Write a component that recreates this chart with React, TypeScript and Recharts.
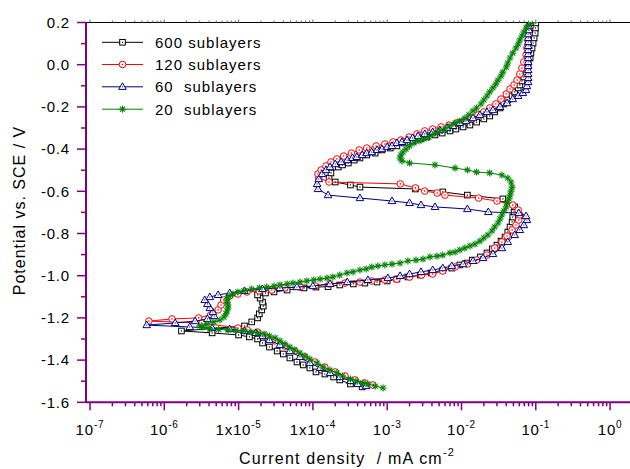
import React from 'react';
import { ScatterChart, Scatter, XAxis, YAxis } from 'recharts';

const FONT = '"Liberation Sans", Arial, Helvetica, sans-serif';
const PURPLE = '#800080';

// [current density (mA cm^-2), potential (V vs SCE)]
const s600: [number, number][] = [
  [4.6e-4, -1.527], [3.2e-4, -1.513], [2.3e-4, -1.494], [1.9e-4, -1.48], [1.45e-4, -1.466],
  [1.1e-4, -1.456], [9.1e-5, -1.437], [7.4e-5, -1.423], [6.1e-5, -1.409], [4.9e-5, -1.39],
  [4.0e-5, -1.371], [3.3e-5, -1.357], [2.6e-5, -1.338], [2.1e-5, -1.319], [1.8e-5, -1.3],
  [1.4e-5, -1.29], [1.0e-5, -1.281], [4.4e-6, -1.271], [1.7e-6, -1.262], [1.2e-5, -1.238],
  [1.5e-5, -1.219], [1.8e-5, -1.2], [1.9e-5, -1.181], [2.05e-5, -1.162], [2.15e-5, -1.144],
  [2.1e-5, -1.125], [1.95e-5, -1.106], [1.8e-5, -1.091], [2.3e-5, -1.082], [3.0e-5, -1.077],
  [4.5e-5, -1.068], [7.6e-5, -1.058], [1.1e-4, -1.054], [1.6e-4, -1.052], [2.3e-4, -1.044],
  [3.5e-4, -1.039], [5.0e-4, -1.035], [7.3e-4, -1.03], [1.0e-3, -1.025], [1.35e-3, -1.016],
  [1.9e-3, -1.006], [2.8e-3, -0.997], [3.9e-3, -0.987], [5.6e-3, -0.973], [7.4e-3, -0.964],
  [9.5e-3, -0.949], [1.2e-2, -0.94], [1.4e-2, -0.926], [1.8e-2, -0.911], [2.2e-2, -0.892],
  [2.6e-2, -0.873], [3.0e-2, -0.855], [3.4e-2, -0.836], [3.85e-2, -0.817], [4.2e-2, -0.793],
  [4.5e-2, -0.769], [4.8e-2, -0.745], [4.9e-2, -0.722], [5.1e-2, -0.698], [5.2e-2, -0.674],
  [3.6e-2, -0.636], [1.2e-2, -0.618], [5.6e-3, -0.603], [2.4e-3, -0.589], [4.3e-4, -0.58],
  [3.2e-4, -0.57], [2.0e-4, -0.556], [1.65e-4, -0.537], [1.75e-4, -0.513], [2.2e-4, -0.485],
  [2.5e-4, -0.475], [3.0e-4, -0.466], [3.6e-4, -0.452], [4.3e-4, -0.442], [5.3e-4, -0.428],
  [6.9e-4, -0.419], [8.5e-4, -0.404], [1.1e-3, -0.395], [1.35e-3, -0.385], [1.7e-3, -0.371],
  [2.2e-3, -0.362], [2.8e-3, -0.352], [3.4e-3, -0.343], [4.4e-3, -0.333], [5.5e-3, -0.324],
  [7.0e-3, -0.314], [8.4e-3, -0.305], [1.05e-2, -0.295], [1.3e-2, -0.286], [1.6e-2, -0.272],
  [2.0e-2, -0.257], [2.4e-2, -0.243], [2.8e-2, -0.224], [3.3e-2, -0.205], [3.7e-2, -0.186],
  [4.2e-2, -0.167], [4.8e-2, -0.148], [5.2e-2, -0.129], [5.8e-2, -0.11], [6.1e-2, -0.096],
  [6.5e-2, -0.077], [6.9e-2, -0.058], [7.4e-2, -0.035], [7.6e-2, -0.016], [7.9e-2, 0.008],
  [8.4e-2, 0.032], [8.6e-2, 0.055], [8.9e-2, 0.079], [9.2e-2, 0.103], [9.5e-2, 0.127],
  [9.8e-2, 0.15], [9.9e-2, 0.174], [1.0e-1, 0.198],
];

const s120: [number, number][] = [
  [6.4e-4, -1.518], [5.0e-4, -1.508], [3.7e-4, -1.494], [2.7e-4, -1.475], [2.0e-4, -1.456],
  [1.45e-4, -1.433], [1.07e-4, -1.409], [7.8e-5, -1.385], [5.7e-5, -1.357], [4.2e-5, -1.333],
  [3.1e-5, -1.309], [2.3e-5, -1.286], [1.8e-5, -1.267], [1.3e-5, -1.257], [9.8e-6, -1.248],
  [3.2e-6, -1.224], [6.2e-7, -1.215], [1.27e-6, -1.205], [2.9e-6, -1.2], [4.2e-6, -1.186],
  [5.3e-6, -1.162], [5.8e-6, -1.139], [6.3e-6, -1.115], [7.6e-6, -1.096], [9.8e-6, -1.087],
  [1.3e-5, -1.077], [1.9e-5, -1.072], [2.8e-5, -1.068], [4.2e-5, -1.058], [6.7e-5, -1.054],
  [1.07e-4, -1.049], [1.7e-4, -1.039], [2.7e-4, -1.035], [4.3e-4, -1.03], [6.2e-4, -1.025],
  [9.3e-4, -1.02], [1.35e-3, -1.016], [2.0e-3, -1.006], [2.9e-3, -0.997], [4.1e-3, -0.992],
  [5.6e-3, -0.978], [8.2e-3, -0.959], [1.2e-2, -0.945], [1.6e-2, -0.926], [2.2e-2, -0.902],
  [2.8e-2, -0.869], [3.5e-2, -0.84], [4.1e-2, -0.812], [4.8e-2, -0.783], [5.4e-2, -0.76],
  [5.9e-2, -0.736], [6.1e-2, -0.712], [5.8e-2, -0.689], [4.9e-2, -0.665], [3.0e-2, -0.646],
  [1.7e-2, -0.632], [6.0e-3, -0.618], [4.7e-3, -0.608], [3.2e-3, -0.599], [2.4e-3, -0.584],
  [1.5e-3, -0.565], [1.65e-4, -0.556], [1.2e-4, -0.537], [1.17e-4, -0.518], [1.29e-4, -0.499],
  [1.5e-4, -0.48], [1.75e-4, -0.461], [2.1e-4, -0.447], [2.6e-4, -0.433], [3.3e-4, -0.419],
  [4.2e-4, -0.404], [5.3e-4, -0.395], [7.1e-4, -0.385], [9.3e-4, -0.376], [1.2e-3, -0.366],
  [1.53e-3, -0.357], [1.97e-3, -0.343], [2.52e-3, -0.328], [3.2e-3, -0.314], [4.1e-3, -0.305],
  [5.3e-3, -0.295], [6.8e-3, -0.286], [8.7e-3, -0.276], [1.08e-2, -0.267], [1.34e-2, -0.253],
  [1.67e-2, -0.238], [2.0e-2, -0.224], [2.4e-2, -0.205], [2.9e-2, -0.186], [3.4e-2, -0.163],
  [4.0e-2, -0.139], [4.5e-2, -0.115], [5.1e-2, -0.096], [5.6e-2, -0.073], [6.1e-2, -0.044],
  [6.5e-2, -0.016], [6.9e-2, 0.013], [7.4e-2, 0.046], [7.6e-2, 0.079], [7.9e-2, 0.112],
  [8.1e-2, 0.145], [8.4e-2, 0.179],
];

const s60: [number, number][] = [
  [5.2e-4, -1.523], [4.0e-4, -1.513], [3.2e-4, -1.499], [2.3e-4, -1.48], [1.7e-4, -1.461],
  [1.25e-4, -1.437], [9.1e-5, -1.414], [6.7e-5, -1.385], [4.9e-5, -1.357], [3.6e-5, -1.328],
  [2.6e-5, -1.305], [2.1e-5, -1.286], [1.7e-5, -1.271], [1.2e-5, -1.262], [7.6e-6, -1.253],
  [4.4e-6, -1.248], [2.2e-6, -1.243], [5.8e-7, -1.234], [1.4e-6, -1.224], [2.6e-6, -1.215],
  [3.8e-6, -1.205], [4.7e-6, -1.191], [4.5e-6, -1.172], [4.1e-6, -1.153], [3.8e-6, -1.134],
  [3.5e-6, -1.115], [4.1e-6, -1.101], [5.3e-6, -1.091], [7.6e-6, -1.082], [1.2e-5, -1.072],
  [2.1e-5, -1.063], [3.6e-5, -1.058], [6.1e-5, -1.054], [1.0e-4, -1.049], [1.7e-4, -1.039],
  [2.9e-4, -1.03], [5.5e-4, -1.02], [1.02e-3, -1.011], [1.49e-3, -1.001], [2.0e-3, -0.992],
  [2.85e-3, -0.982], [4.1e-3, -0.973], [5.6e-3, -0.964], [7.4e-3, -0.954], [1.05e-2, -0.945],
  [1.43e-2, -0.93], [1.95e-2, -0.916], [2.65e-2, -0.897], [3.5e-2, -0.869], [4.2e-2, -0.84],
  [5.2e-2, -0.807], [6.1e-2, -0.783], [6.9e-2, -0.76], [7.6e-2, -0.736], [7.4e-2, -0.717],
  [5.9e-2, -0.703], [2.3e-2, -0.698], [1.2e-2, -0.684], [4.4e-3, -0.674], [2.85e-3, -0.665],
  [2.0e-3, -0.655], [1.16e-3, -0.646], [4.3e-4, -0.632], [1.6e-4, -0.618], [1.17e-4, -0.589],
  [1.14e-4, -0.565], [1.2e-4, -0.542], [1.33e-4, -0.518], [1.5e-4, -0.499], [1.7e-4, -0.485],
  [2.0e-4, -0.471], [2.4e-4, -0.461], [2.9e-4, -0.452], [3.4e-4, -0.442], [3.9e-4, -0.437],
  [4.6e-4, -0.428], [5.3e-4, -0.419], [6.2e-4, -0.414], [7.3e-4, -0.404], [8.5e-4, -0.4],
  [1.0e-3, -0.39], [1.16e-3, -0.385], [1.35e-3, -0.371], [1.58e-3, -0.366], [1.85e-3, -0.357],
  [2.2e-3, -0.347], [2.6e-3, -0.338], [3.2e-3, -0.328], [4.1e-3, -0.319], [5.1e-3, -0.31],
  [6.4e-3, -0.3], [7.7e-3, -0.29], [9.5e-3, -0.276], [1.15e-2, -0.267], [1.43e-2, -0.253],
  [1.77e-2, -0.238], [2.2e-2, -0.224], [2.65e-2, -0.215], [3.3e-2, -0.2], [4.1e-2, -0.182],
  [4.9e-2, -0.163], [5.8e-2, -0.148], [6.7e-2, -0.134], [7.4e-2, -0.12], [7.6e-2, -0.101],
  [7.9e-2, -0.082], [7.9e-2, -0.063], [7.9e-2, -0.044], [7.9e-2, -0.025], [7.9e-2, -0.006],
  [7.9e-2, 0.013], [7.9e-2, 0.032], [7.9e-2, 0.051], [7.9e-2, 0.07], [7.9e-2, 0.089],
  [7.9e-2, 0.108], [7.9e-2, 0.127], [7.9e-2, 0.145], [8.1e-2, 0.164], [8.1e-2, 0.183],
  [8.4e-2, 0.198],
];

const s20: [number, number][] = [
  [8.8e-4, -1.532], [6.9e-4, -1.523], [5.5e-4, -1.513], [4.7e-4, -1.508], [3.8e-4, -1.499],
  [3.2e-4, -1.49], [2.5e-4, -1.475], [2.1e-4, -1.461], [1.7e-4, -1.447], [1.37e-4, -1.433],
  [1.14e-4, -1.414], [9.1e-5, -1.395], [7.8e-5, -1.381], [6.7e-5, -1.366], [5.7e-5, -1.352],
  [4.9e-5, -1.338], [4.2e-5, -1.324], [3.6e-5, -1.309], [3.1e-5, -1.295], [2.6e-5, -1.286],
  [2.2e-5, -1.276], [1.8e-5, -1.271], [1.47e-5, -1.267], [1.18e-5, -1.262], [9.2e-6, -1.26],
  [7.2e-6, -1.257], [5.4e-6, -1.255], [4.1e-6, -1.253], [3.3e-6, -1.243], [3.0e-6, -1.238],
  [3.75e-6, -1.229], [4.66e-6, -1.219], [5.6e-6, -1.21], [6.35e-6, -1.196], [6.76e-6, -1.181],
  [6.97e-6, -1.167], [7.2e-6, -1.153], [7.2e-6, -1.139], [7.0e-6, -1.125], [7.0e-6, -1.11],
  [7.43e-6, -1.096], [8.4e-6, -1.087], [9.8e-6, -1.077], [1.18e-5, -1.072], [1.5e-5, -1.063],
  [1.9e-5, -1.058], [2.4e-5, -1.054], [3.0e-5, -1.049], [3.6e-5, -1.044], [4.5e-5, -1.039],
  [5.4e-5, -1.035], [6.7e-5, -1.03], [8.3e-5, -1.025], [1.03e-4, -1.02], [1.25e-4, -1.016],
  [1.55e-4, -1.011], [1.86e-4, -1.006], [2.3e-4, -0.997], [2.88e-4, -0.987], [3.47e-4, -0.982],
  [4.3e-4, -0.973], [5.2e-4, -0.968], [6.2e-4, -0.959], [7.5e-4, -0.954], [9.3e-4, -0.949],
  [1.16e-3, -0.945], [1.49e-3, -0.94], [1.9e-3, -0.93], [2.44e-3, -0.926], [3.03e-3, -0.921],
  [3.77e-3, -0.911], [4.68e-3, -0.907], [5.6e-3, -0.902], [7.0e-3, -0.892], [8.2e-3, -0.888],
  [9.5e-3, -0.878], [1.11e-2, -0.869], [1.3e-2, -0.859], [1.52e-2, -0.85], [1.77e-2, -0.836],
  [2.0e-2, -0.821], [2.27e-2, -0.807], [2.57e-2, -0.788], [2.8e-2, -0.769], [3.1e-2, -0.75],
  [3.3e-2, -0.731], [3.5e-2, -0.712], [3.73e-2, -0.693], [4.0e-2, -0.674], [4.1e-2, -0.655],
  [4.36e-2, -0.636], [4.5e-2, -0.618], [4.64e-2, -0.599], [4.8e-2, -0.58], [4.64e-2, -0.556],
  [4.2e-2, -0.537], [3.5e-2, -0.523], [2.4e-2, -0.513], [1.6e-2, -0.509], [1.2e-2, -0.499],
  [8.2e-3, -0.49], [4.4e-3, -0.475], [2.0e-3, -0.466], [1.58e-3, -0.456], [1.49e-3, -0.442],
  [1.53e-3, -0.428], [1.63e-3, -0.414], [1.79e-3, -0.4], [2.0e-3, -0.385], [2.3e-3, -0.371],
  [2.68e-3, -0.362], [3.13e-3, -0.352], [3.65e-3, -0.343], [4.27e-3, -0.328], [5.1e-3, -0.314],
  [6.0e-3, -0.305], [7.0e-3, -0.29], [8.2e-3, -0.276], [9.5e-3, -0.267], [1.11e-2, -0.253],
  [1.26e-2, -0.238], [1.43e-2, -0.219], [1.6e-2, -0.205], [1.83e-2, -0.186], [2.0e-2, -0.167],
  [2.2e-2, -0.148], [2.4e-2, -0.129], [2.65e-2, -0.11], [2.9e-2, -0.092], [3.1e-2, -0.073],
  [3.4e-2, -0.054], [3.6e-2, -0.035], [4.0e-2, -0.011], [4.2e-2, 0.008], [4.5e-2, 0.032],
  [4.9e-2, 0.055], [5.4e-2, 0.079], [5.8e-2, 0.098], [6.1e-2, 0.117], [6.5e-2, 0.136],
  [6.9e-2, 0.155], [7.4e-2, 0.174], [7.9e-2, 0.188], [8.9e-2, 0.198],
];

const seriesNames = ['600 sublayers', '120 sublayers', '60  sublayers', '20  sublayers'];
const seriesData = [s600, s120, s60, s20];
const seriesColors = ['#000000', '#ff0000', '#000080', '#008000'];
const seriesMarkers = ['square', 'circle', 'triangle', 'star'];

const majorExps = [-7, -6, -5, -4, -3, -2, -1, 0];
const majorBases = ['10', '10', '1x10', '1x10', '10', '10', '10', '10'];
const minorMultipliers = [1, 2, 3, 4, 5, 6, 7, 8, 9];
const yTicks = [0.2, 0.1, 0, -0.1, -0.2, -0.3, -0.4, -0.5, -0.6, -0.7, -0.8, -0.9, -1.0, -1.1, -1.2, -1.3, -1.4, -1.5, -1.6];

const X_MIN = 8.83e-8;
const X_MAX = 1.854;

const xTicks: number[] = [];
majorExps.forEach((e) =>
  minorMultipliers.forEach((m) => {
    const v = m * Math.pow(10, e);
    if (v <= X_MAX && v >= X_MIN) xTicks.push(v);
  })
);

function Marker({ kind, cx, cy, color }: { kind: string; cx?: number; cy?: number; color: string }) {
  if (cx == null || cy == null || isNaN(cx) || isNaN(cy)) return null;
  if (kind === 'square') {
    return (
      <g>
        <rect x={cx - 2.8} y={cy - 2.8} width={5.6} height={5.6} fill="#fff" stroke={color} strokeWidth={1} />
        <rect x={cx - 0.6} y={cy - 0.6} width={1.2} height={1.2} fill={color} />
      </g>
    );
  }
  if (kind === 'circle') {
    return (
      <g>
        <circle cx={cx} cy={cy} r={3.3} fill="#fff" stroke={color} strokeWidth={1} />
        <circle cx={cx} cy={cy} r={0.8} fill={color} />
      </g>
    );
  }
  if (kind === 'triangle') {
    return (
      <g>
        <polygon
          points={`${cx},${cy - 4} ${cx - 3.8},${cy + 2.6} ${cx + 3.8},${cy + 2.6}`}
          fill="#fff"
          stroke={color}
          strokeWidth={1}
        />
        <circle cx={cx} cy={cy} r={0.6} fill={color} />
      </g>
    );
  }
  const r = 3.5;
  const d = r * 0.7071;
  return (
    <g stroke={color} strokeWidth={1.1}>
      <line x1={cx - r} y1={cy} x2={cx + r} y2={cy} />
      <line x1={cx} y1={cy - r} x2={cx} y2={cy + r} />
      <line x1={cx - d} y1={cy - d} x2={cx + d} y2={cy + d} />
      <line x1={cx - d} y1={cy + d} x2={cx + d} y2={cy - d} />
    </g>
  );
}

function XTick(props: any) {
  const { x, y, payload } = props;
  if (!payload) return null;
  const v = payload.value as number;
  const lg = Math.log10(v);
  const exp = Math.round(lg);
  const isMajor = Math.abs(lg - exp) < 1e-6;
  const idx = majorExps.indexOf(exp);
  return (
    <g>
      <line x1={x} y1={y} x2={x} y2={y + (isMajor ? 8 : 4)} stroke={PURPLE} strokeWidth={1.5} />
      {isMajor && idx >= 0 && (
        <text x={x} y={y + 33} textAnchor="middle" fontFamily={FONT} fontSize={15} letterSpacing={0.8} fill="#000">
          <tspan>{majorBases[idx]}</tspan>
          <tspan dy={-7} fontSize={10}>{String(exp)}</tspan>
        </text>
      )}
    </g>
  );
}

function TopTick(props: any) {
  const { x, y, payload } = props;
  if (!payload) return null;
  const v = payload.value as number;
  const lg = Math.log10(v);
  const isMajor = Math.abs(lg - Math.round(lg)) < 1e-6;
  return <line x1={x} y1={y} x2={x} y2={y - (isMajor ? 3 : 2)} stroke="#666" strokeWidth={1} />;
}

function YTick(props: any) {
  const { x, y, payload } = props;
  if (!payload) return null;
  const v = payload.value as number;
  const isMajor = Math.round(v * 10) % 2 === 0;
  return (
    <g>
      <line x1={x - (isMajor ? 9 : 5)} y1={y} x2={x} y2={y} stroke={PURPLE} strokeWidth={1.5} />
      {isMajor && (
        <text x={x - 16} y={y} dy="0.35em" textAnchor="end" fontFamily={FONT} fontSize={15} letterSpacing={0.8} fill="#000">
          {v.toFixed(1)}
        </text>
      )}
    </g>
  );
}

export default function App() {
  const legendRows = [42.3, 64.5, 86.8, 109.2];
  return (
    <div style={{ position: 'absolute', left: 0, top: 0, width: 630, height: 469, background: '#fff' }}>
      <ScatterChart width={630} height={469} margin={{ top: 20.5, right: 0, bottom: 0, left: 0 }}>
        <XAxis
          xAxisId="b"
          type="number"
          dataKey="x"
          scale="log"
          domain={[X_MIN, X_MAX]}
          allowDataOverflow
          ticks={xTicks}
          interval={0}
          tickSize={0}
          tickMargin={0}
          height={66.7}
          axisLine={{ stroke: PURPLE, strokeWidth: 2 }}
          tickLine={false}
          tick={<XTick />}
        />
        <XAxis
          xAxisId="t"
          orientation="top"
          type="number"
          dataKey="x"
          scale="log"
          domain={[X_MIN, X_MAX]}
          allowDataOverflow
          ticks={xTicks}
          interval={0}
          tickSize={0}
          tickMargin={0}
          height={2}
          axisLine={{ stroke: '#000', strokeWidth: 1 }}
          tickLine={false}
          tick={<TopTick />}
        />
        <YAxis
          yAxisId="l"
          type="number"
          dataKey="y"
          domain={[-1.6, 0.2]}
          allowDataOverflow
          ticks={yTicks}
          interval={0}
          tickSize={0}
          tickMargin={0}
          width={86}
          axisLine={{ stroke: PURPLE, strokeWidth: 2 }}
          tickLine={false}
          tick={<YTick />}
        />
        {seriesData.map((d, i) => (
          <Scatter
            key={seriesNames[i]}
            name={seriesNames[i]}
            xAxisId="b"
            yAxisId="l"
            data={d.map(([x, y]) => ({ x, y }))}
            fill={seriesColors[i]}
            line={{ stroke: seriesColors[i], strokeWidth: 1 }}
            lineType="joint"
            isAnimationActive={false}
            shape={(p: any) => <Marker kind={seriesMarkers[i]} cx={p.cx} cy={p.cy} color={seriesColors[i]} />}
          />
        ))}
      </ScatterChart>
      <svg
        width={630}
        height={469}
        style={{ position: 'absolute', left: 0, top: 0, pointerEvents: 'none' }}
      >
        {seriesNames.map((n, i) => (
          <g key={n}>
            <line x1={102} y1={legendRows[i]} x2={143} y2={legendRows[i]} stroke={seriesColors[i]} strokeWidth={1} />
            <Marker kind={seriesMarkers[i]} cx={122.5} cy={legendRows[i]} color={seriesColors[i]} />
            <text
              x={155}
              y={legendRows[i] + 5.3}
              fontFamily={FONT}
              fontSize={15}
              letterSpacing={1}
              fill="#000"
              style={{ whiteSpace: 'pre' }}
            >
              {n}
            </text>
          </g>
        ))}
        <text
          x={347}
          y={464}
          textAnchor="middle"
          fontFamily={FONT}
          fontSize={16}
          letterSpacing={1.2}
          fill="#000"
          style={{ whiteSpace: 'pre' }}
        >
          <tspan>{'Current density  / mA cm'}</tspan>
          <tspan dy={-8} fontSize={11}>-2</tspan>
        </text>
        <text
          transform="translate(25,210.5) rotate(-90)"
          textAnchor="middle"
          fontFamily={FONT}
          fontSize={16}
          letterSpacing={1}
          fill="#000"
        >
          Potential vs. SCE / V
        </text>
      </svg>
    </div>
  );
}
